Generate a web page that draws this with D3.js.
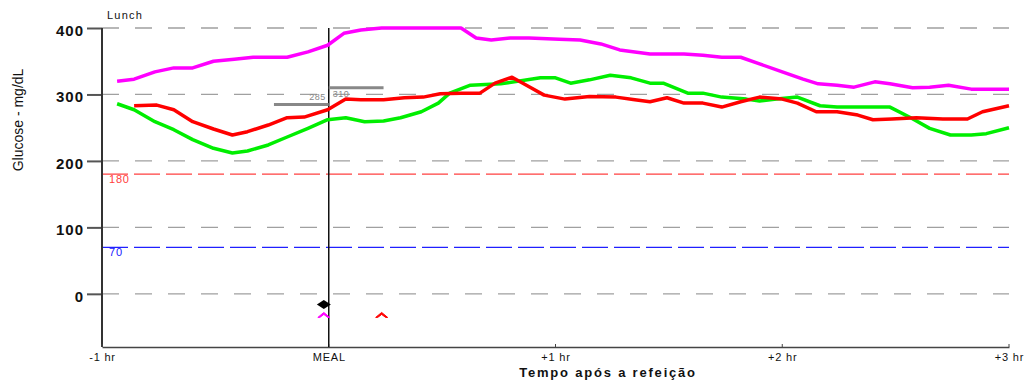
<!DOCTYPE html>
<html>
<head>
<meta charset="utf-8">
<script src="https://cdn.jsdelivr.net/npm/d3@7"></script>
<style>
  body { margin: 0; background: #fff; }
  svg { font-family: "Liberation Sans", Arial, sans-serif; }
</style>
</head>
<body>
<svg id="chart" width="1031" height="382"></svg>
<script>
// Time in minutes relative to the meal, glucose in mg/dL
const magentaT = [-56, -51.5, -46, -41, -36, -30.5, -25, -20, -11, -5.5, -0.3, 4, 8.5, 14, 35, 39, 43, 48, 53, 61, 66.5, 72, 77, 85, 94, 99, 104, 109, 114, 120, 125.5, 129.5, 134.5, 139, 144.5, 148.5, 154.5, 159, 164, 170, 180];
const magentaV = [320, 323, 334, 340, 340, 350, 353, 356, 356, 364, 374, 392, 397, 400, 400, 385, 382, 385, 385, 383, 382, 376, 367, 361, 361, 359, 356, 356, 346, 334, 323, 316, 314, 311, 319, 316, 310, 311, 314, 308, 308];

const redT = [-51.5, -45.5, -41, -36, -30.5, -25.5, -21.5, -16, -11, -6.5, -0.3, 4.5, 8.5, 14.5, 20, 25, 29.5, 35, 40, 44, 48.5, 53.5, 57, 62.5, 69, 76, 81, 85, 89.5, 94, 99, 104, 109, 114, 120, 124, 129, 134.5, 140, 144, 149, 155.5, 162.5, 169, 173, 180];
const redV = [283, 284, 277, 259, 248, 239, 244, 254, 265, 266, 277, 293, 292, 292, 295, 296, 301, 302, 302, 317, 326, 310, 299, 293, 297, 296, 292, 289, 295, 287, 287, 281, 289, 296, 293, 287, 274, 274, 269, 262, 263, 265, 263, 263, 274, 283];

const greenT = [-56, -51.5, -46, -41, -36, -30.5, -25.5, -21.5, -16, -11, -5.5, -0.3, 4.5, 9.5, 14.5, 19, 24.5, 29, 32, 37.5, 45.5, 56, 60, 64, 69, 74.5, 80, 85, 88.5, 95, 99, 104, 110.5, 114, 118.5, 124, 130, 134.5, 144, 148.5, 154, 159, 164.5, 170, 174, 180];
const greenV = [286, 277, 259, 247, 232, 219, 212, 215, 224, 236, 249, 262, 265, 259, 260, 265, 274, 287, 302, 314, 316, 325, 325, 317, 322, 329, 325, 317, 317, 302, 302, 296, 293, 290, 293, 296, 283, 281, 281, 281, 265, 249, 239, 239, 241, 250];

const yTicks = [0, 100, 200, 300, 400];
const xTicks = [-60, 0, 60, 120, 180];
const xTickLabels = ["-1 hr", "MEAL", "+1 hr", "+2 hr", "+3 hr"];
const targets = [{ value: 180, color: "#ff4040", label: "180" }, { value: 70, color: "#2020ff", label: "70" }];
const preMeal = { t0: -14.5, t1: 0, value: 285 };
const postMeal = { t0: 0, t1: 14.5, value: 310 };

const svg = d3.select("#chart");
const x = d3.scaleLinear().domain([-60, 180]).range([102, 1009]);
const y = d3.scaleLinear().domain([-80, 400]).range([347, 28]);

// Grid lines
svg.selectAll(".grid")
    .data(yTicks)
    .join("line")
    .attr("x1", x(-60)).attr("x2", x(180))
    .attr("y1", d => y(d)).attr("y2", d => y(d))
    .attr("stroke", "#a0a0a0")
    .attr("stroke-width", 1.3)
    .attr("stroke-dasharray", "17,16");

// Target lines
targets.forEach(t => {
    svg.append("line")
        .attr("x1", x(-60)).attr("x2", x(180))
        .attr("y1", y(t.value)).attr("y2", y(t.value))
        .attr("stroke", t.color)
        .attr("stroke-width", 1.2)
        .attr("stroke-dasharray", "26,6");
    svg.append("text")
        .attr("x", x(-60) + 7).attr("y", y(t.value) + 9)
        .attr("font-size", 11).attr("letter-spacing", 0.8)
        .attr("fill", t.color)
        .text(t.label);
});

// Y axis
const yAxis = svg.append("g").attr("transform", `translate(${x(-60)},0)`)
    .call(d3.axisLeft(y).tickValues(yTicks).tickSize(15).tickPadding(3));
yAxis.select(".domain").remove();
yAxis.selectAll(".tick line").attr("stroke", "#555").attr("stroke-width", 2);
yAxis.selectAll(".tick text")
    .attr("font-size", 15).attr("font-weight", "bold").attr("letter-spacing", 1)
    .attr("font-family", "'Liberation Sans', Arial, sans-serif")
    .attr("fill", "#111").attr("dy", "0.5em");
svg.append("line")
    .attr("x1", x(-60)).attr("x2", x(-60))
    .attr("y1", y(400)).attr("y2", y(-80))
    .attr("stroke", "#333").attr("stroke-width", 2);

// X axis
const xAxis = svg.append("g").attr("transform", `translate(0,${y(-80)})`)
    .call(d3.axisBottom(x).tickValues(xTicks).tickFormat((d, i) => xTickLabels[i]).tickSize(0).tickPadding(6));
xAxis.select(".domain").attr("stroke", "#444").attr("stroke-width", 1.5);
xAxis.selectAll(".tick text")
    .attr("font-size", 11).attr("letter-spacing", 0.8)
    .attr("font-family", "'Liberation Sans', Arial, sans-serif")
    .attr("fill", "#111");
svg.selectAll(".xtickmark")
    .data(xTicks)
    .join("line")
    .attr("x1", d => x(d)).attr("x2", d => x(d))
    .attr("y1", y(-80) - 3).attr("y2", y(-80))
    .attr("stroke", "#444");

// Meal line
svg.append("line")
    .attr("x1", x(0)).attr("x2", x(0))
    .attr("y1", y(400)).attr("y2", y(-80))
    .attr("stroke", "#111").attr("stroke-width", 1.5);

// Pre / post meal averages
[preMeal, postMeal].forEach(m => {
    svg.append("line")
        .attr("x1", x(m.t0)).attr("x2", x(m.t1))
        .attr("y1", y(m.value)).attr("y2", y(m.value))
        .attr("stroke", "#888").attr("stroke-width", 3);
});
svg.append("text")
    .attr("x", x(0) - 3).attr("y", y(preMeal.value) - 4)
    .attr("text-anchor", "end").attr("font-size", 9).attr("letter-spacing", 0.5).attr("fill", "#888")
    .text(preMeal.value);
svg.append("text")
    .attr("x", x(0) + 4).attr("y", y(postMeal.value) + 9)
    .attr("font-size", 9).attr("letter-spacing", 0.5).attr("fill", "#888")
    .text(postMeal.value);

// Series
const line = d3.line().x(d => x(d[0])).y(d => y(d[1]));
const series = [
    { t: magentaT, v: magentaV, color: "#ff00ff" },
    { t: greenT, v: greenV, color: "#00ee00" },
    { t: redT, v: redV, color: "#ff0000" }
];
series.forEach(s => {
    svg.append("path")
        .datum(d3.zip(s.t, s.v))
        .attr("d", line)
        .attr("fill", "none")
        .attr("stroke", s.color)
        .attr("stroke-width", 3.5)
        .attr("stroke-linejoin", "round");
});

// Event markers
const diamond = { t: -1.3, v: -16 };
const carets = [{ t: -1.3, v: -31, color: "#ff00ff" }, { t: 14, v: -31, color: "#ff0000" }];
svg.append("path")
    .attr("d", "M-7,0 L0,-4.5 L7,0 L0,4.5 Z")
    .attr("transform", `translate(${x(diamond.t)},${y(diamond.v)})`)
    .attr("fill", "#000");
svg.selectAll(".caret")
    .data(carets)
    .join("path")
    .attr("d", "M-6,3 L0,-2 L6,3 L4,3 L0,0 L-4,3 Z")
    .attr("transform", d => `translate(${x(d.t)},${y(d.v)})`)
    .attr("fill", d => d.color)
    .attr("stroke", d => d.color)
    .attr("stroke-width", 1);

// Labels
svg.append("text")
    .attr("x", 107).attr("y", 19)
    .attr("font-size", 11).attr("letter-spacing", 1.2).attr("fill", "#111")
    .text("Lunch");
svg.append("text")
    .attr("transform", "translate(23,120) rotate(-90)")
    .attr("text-anchor", "middle")
    .attr("font-size", 14).attr("fill", "#111")
    .text("Glucose - mg/dL");
svg.append("text")
    .attr("x", 608).attr("y", 377)
    .attr("text-anchor", "middle")
    .attr("font-size", 13).attr("font-weight", "bold").attr("letter-spacing", 1.8).attr("fill", "#111")
    .text("Tempo após a refeição");
</script>
</body>
</html>
